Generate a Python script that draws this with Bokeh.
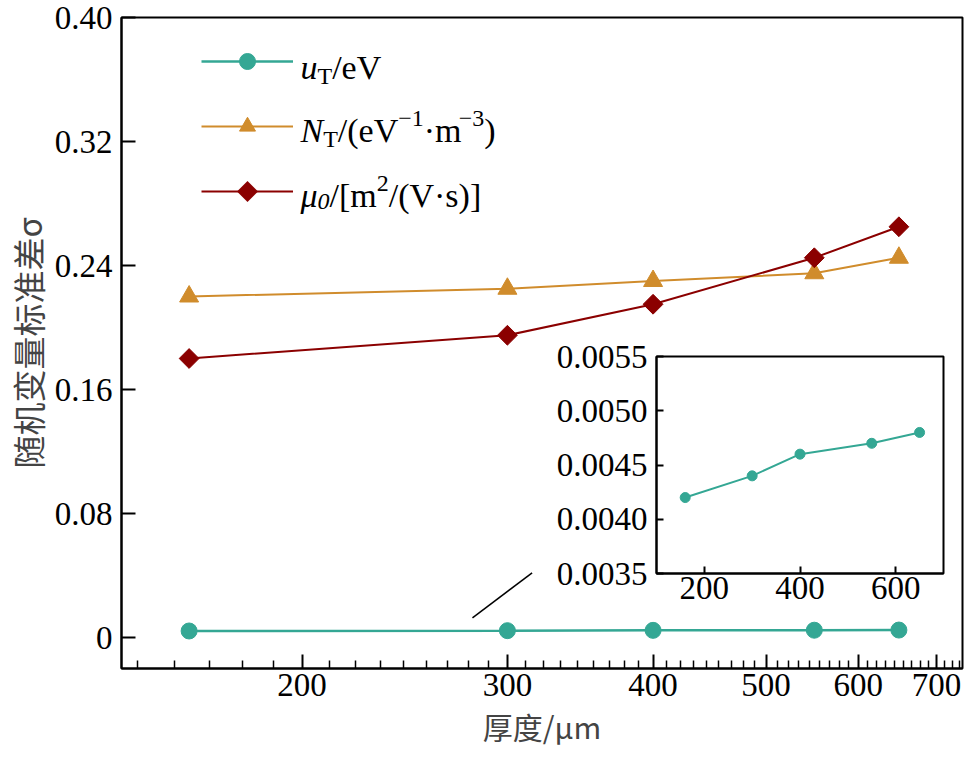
import numpy as np
from bokeh.plotting import figure
from bokeh.models import (FixedTicker, CustomJSTickFormatter, PrintfTickFormatter,
                          Legend, LegendItem, Label, Arrow, GridBox, PolyAnnotation)
from bokeh.embed import file_html
from bokeh.resources import INLINE

# ---------------- data ----------------
thickness = [160, 300, 400, 550, 650]          # µm
u_T = [0.0042, 0.0044, 0.0046, 0.0047, 0.0048]
N_T = [0.220, 0.225, 0.230, 0.235, 0.245]
mu_0 = [0.180, 0.195, 0.215, 0.245, 0.265]

x_major = [200, 300, 400, 500, 600, 700]
y_major = [0, 0.08, 0.16, 0.24, 0.32, 0.40]
inset_x_ticks = [200, 400, 600]
inset_y_ticks = [0.0035, 0.0040, 0.0045, 0.0050, 0.0055]

# pointer line from the u_T curve to the inset (data coords)
pointer = dict(x_start=280, y_start=0.0127, x_end=315, y_end=0.0417)

TEAL = "#34A794"
ORANGE = "#D08C2C"
DARKRED = "#8B0000"
SERIF = "Liberation Serif"
CJK = "Noto Sans CJK SC"
TICK_FS = "33px"

# minor ticks: 8 evenly spaced (in value) between majors
x_minor = [b + k * 100 / 9 for b in range(100, 800, 100) for k in range(1, 9)]
x_minor = [v for v in x_minor if 140 < v < 737]

# ---------------- main figure ----------------
p = figure(width=964, height=759, x_axis_type="log", x_range=(140, 737),
           y_range=(-0.02, 0.40), output_backend="svg", toolbar_location=None,
           min_border_left=121, min_border_right=2, min_border_top=17,
           min_border_bottom=91)
p.xgrid.visible = False
p.ygrid.visible = False
p.outline_line_color = "black"
p.outline_line_width = 2
p.background_fill_color = "white"
p.border_fill_color = "white"

for ax in (p.xaxis[0], p.yaxis[0]):
    ax.axis_line_width = 2
    ax.axis_line_color = "black"
    ax.major_tick_line_width = 2
    ax.major_tick_line_color = "black"
    ax.major_tick_in = 14
    ax.major_tick_out = 0
    ax.major_label_text_font = SERIF
    ax.major_label_text_font_size = TICK_FS
    ax.major_label_text_color = "black"

p.xaxis.ticker = FixedTicker(ticks=x_major, minor_ticks=x_minor)
p.xaxis.formatter = PrintfTickFormatter(format="%d")
p.xaxis.minor_tick_in = 8
p.xaxis.minor_tick_out = 0
p.xaxis.minor_tick_line_width = 1.5
p.xaxis.minor_tick_line_color = "black"
p.xaxis.major_label_standoff = 5
p.xaxis.axis_label = "厚度/μm"
p.xaxis.axis_label_text_font = CJK
p.xaxis.axis_label_text_font_size = "30px"
p.xaxis.axis_label_text_font_style = "normal"
p.xaxis.axis_label_standoff = 5

p.yaxis.ticker = FixedTicker(ticks=y_major, minor_ticks=[])
p.yaxis.formatter = CustomJSTickFormatter(code="return tick == 0 ? '0' : tick.toFixed(2);")
p.yaxis.minor_tick_line_color = None
p.yaxis.major_label_standoff = 9
p.yaxis.axis_label = "随机变量标准差σ"
p.yaxis.axis_label_text_font = CJK
p.yaxis.axis_label_text_font_size = "33px"
p.yaxis.axis_label_text_font_style = "normal"
p.yaxis.axis_label_standoff = 0

l1 = p.line(thickness, u_T, line_color=TEAL, line_width=2.5)
s1 = p.scatter(thickness, u_T, marker="circle", size=16, color=TEAL)
l2 = p.line(thickness, N_T, line_color=ORANGE, line_width=2)
s2 = p.scatter(thickness, N_T, marker="triangle", size=19, color=ORANGE)
l3 = p.line(thickness, mu_0, line_color=DARKRED, line_width=2)
s3 = p.scatter(thickness, mu_0, marker="square", angle=np.pi / 4, size=14, color=DARKRED)

p.add_layout(Arrow(end=None, line_color="black", line_width=1.5, **pointer))

legend = Legend(items=[LegendItem(label=" ", renderers=[l1, s1]),
                       LegendItem(label=" ", renderers=[l2, s2]),
                       LegendItem(label=" ", renderers=[l3])],
                location=(80, 457), glyph_width=92, glyph_height=40, spacing=25,
                padding=0, margin=0, border_line_color=None,
                background_fill_alpha=0, label_text_font_size="1px",
                label_standoff=0, label_width=1, label_height=1)
p.add_layout(legend)

# legend sample for the rotated-square (diamond) marker of mu_0
p.add_layout(PolyAnnotation(xs=[115.5, 126, 136.5, 126], ys=[477, 487.5, 477, 466.5],
                            xs_units="screen", ys_units="screen",
                            fill_color=DARKRED, fill_alpha=1, line_color=None))

# rich-text legend labels (sub/superscripts) built from pieces
REG = {'/': 278, 'e': 444, 'V': 722, '(': 333, ')': 333, '[': 333, ']': 333,
       'm': 778, 's': 389, '·': 250, '−': 564, '1': 500, '2': 500, '3': 500,
       'T': 611, '0': 500}
ITA = {'u': 500, 'N': 667, 'μ': 500, '0': 500}


def rich(x, y, pieces):
    cx = x
    for text, italic, size, dy in pieces:
        p.add_layout(Label(x=cx, y=y + dy, x_units="screen", y_units="screen",
                           text=text, text_font=SERIF, text_font_size=f"{size}px",
                           text_font_style="italic" if italic else "normal",
                           text_color="black", text_baseline="alphabetic",
                           text_align="left"))
        table = ITA if italic else REG
        cx += sum(table.get(ch, 500) for ch in text) * size / 1000.0


BIG, SMALL = 34, 24
rich(179, 601, [("u", True, BIG, 0), ("T", False, SMALL, -8), ("/eV", False, BIG, 0)])
rich(179, 538, [("N", True, BIG, 0), ("T", False, SMALL, -8), ("/(eV", False, BIG, 0),
                ("−1", False, SMALL, 12), ("·m", False, BIG, 0),
                ("−3", False, SMALL, 12), (")", False, BIG, 0)])
rich(179, 473, [("μ", True, BIG, 0), ("0", True, SMALL, -6), ("/[m", False, BIG, 0),
                ("2", False, SMALL, 12), ("/(V·s)]", False, BIG, 0)])

# ---------------- inset ----------------
pi = figure(width=401, height=277, x_range=(100, 700), y_range=(0.0035, 0.0055),
            output_backend="svg", toolbar_location=None,
            min_border_left=108, min_border_right=6, min_border_top=20,
            min_border_bottom=40)
pi.xgrid.visible = False
pi.ygrid.visible = False
pi.outline_line_color = "black"
pi.outline_line_width = 2
pi.background_fill_color = "white"
pi.border_fill_color = None

for ax in (pi.xaxis[0], pi.yaxis[0]):
    ax.axis_line_width = 2
    ax.axis_line_color = "black"
    ax.major_tick_line_width = 2
    ax.major_tick_line_color = "black"
    ax.major_tick_in = 7
    ax.major_tick_out = 0
    ax.minor_tick_line_color = None
    ax.major_label_text_font = SERIF
    ax.major_label_text_font_size = TICK_FS
    ax.major_label_text_color = "black"

pi.xaxis.ticker = FixedTicker(ticks=inset_x_ticks)
pi.xaxis.formatter = PrintfTickFormatter(format="%d")
pi.xaxis.major_label_standoff = 3
pi.yaxis.ticker = FixedTicker(ticks=inset_y_ticks)
pi.yaxis.formatter = PrintfTickFormatter(format="%.4f")
pi.yaxis.major_label_standoff = 9

pi.line(thickness, u_T, line_color=TEAL, line_width=2)
pi.scatter(thickness, u_T, marker="circle", size=10, color=TEAL)

root = GridBox(children=[(p, 0, 0, 3, 3), (pi, 1, 1, 1, 1)],
               rows=["336px", "277px", "146px"],
               cols=["548px", "401px", "15px"], spacing=0)

open("out.html", "w").write(file_html(root, INLINE))
